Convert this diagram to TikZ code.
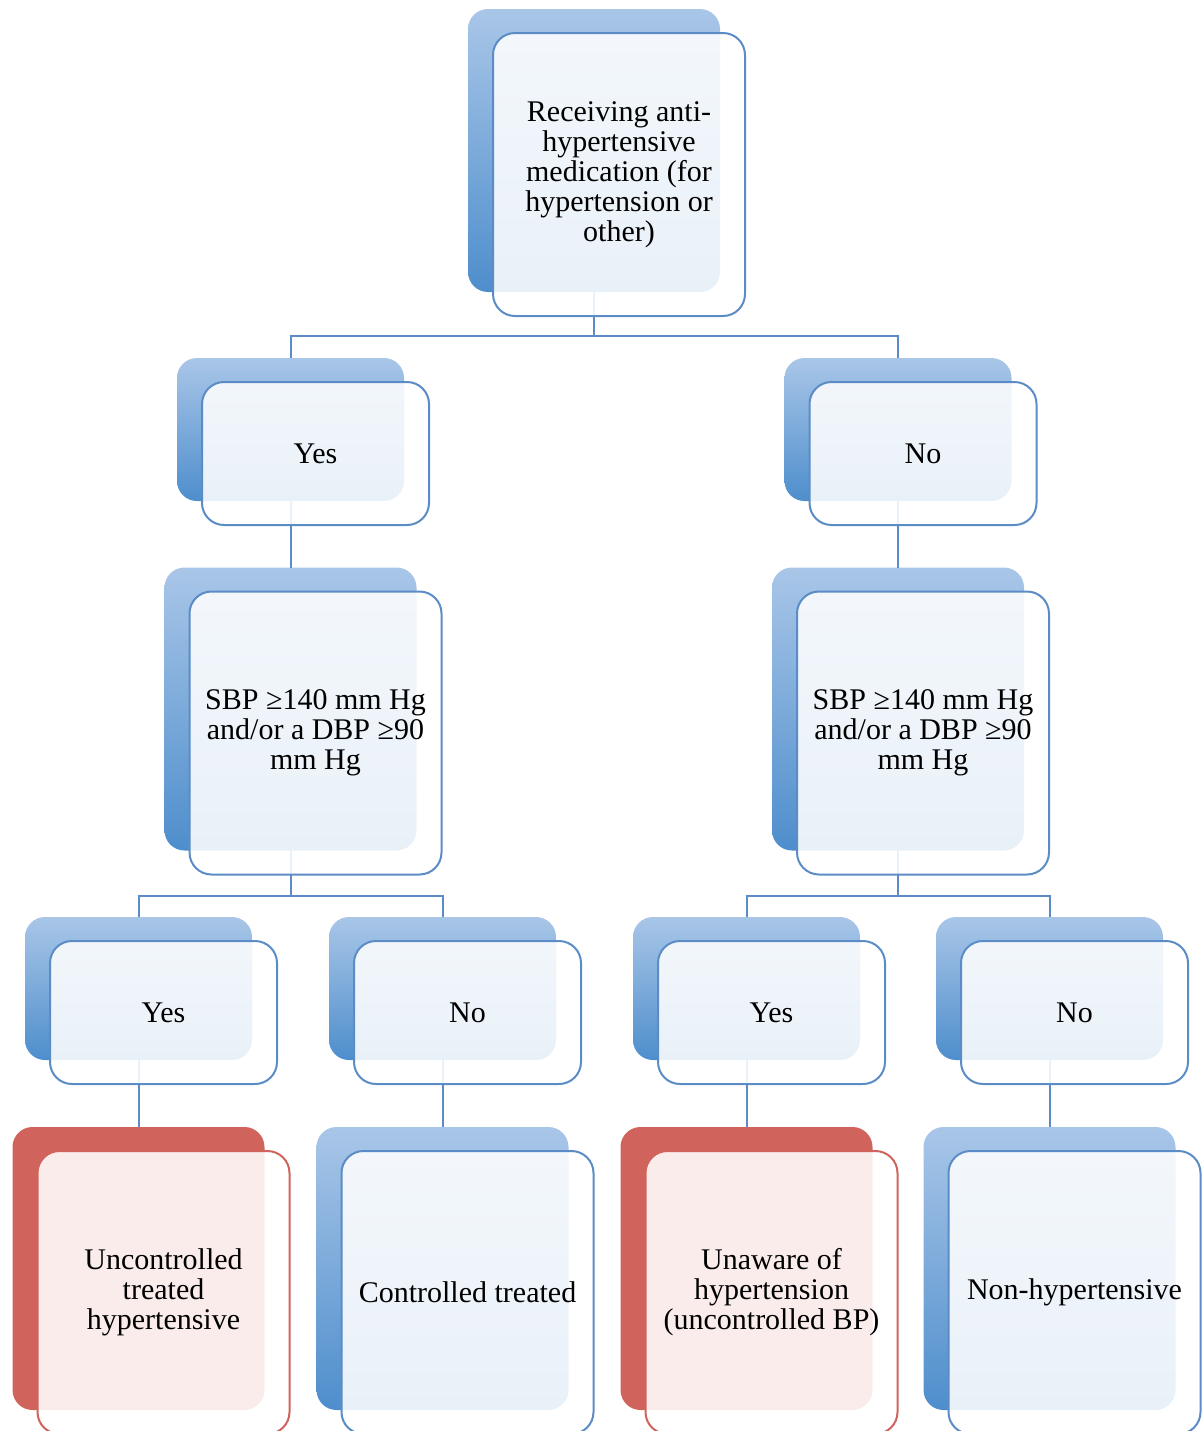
\documentclass[tikz,border=0pt]{standalone}
\usepackage{fontspec}
\setmainfont{Liberation Serif}
\usetikzlibrary{positioning,calc}

\definecolor{backtop}{HTML}{A9C6E8}
\definecolor{backbot}{HTML}{4E8ECC}
\definecolor{edgeblue}{HTML}{5B8CC6}
\definecolor{backred}{HTML}{D0645C}

\begin{document}
\begin{tikzpicture}[
						x=0.5pt, y=-0.5pt,
						every node/.style={font=\fontsize{15}{15}\selectfont, align=center, inner sep=0pt, outer sep=0pt},
						backbox/.style={rounded corners=10pt, top color=backtop, bottom color=backbot},
						redbox/.style={rounded corners=10pt, fill=backred},
						frontbox/.style={rounded corners=11pt, draw=edgeblue, line width=1pt, fill=white, fill opacity=0.88, text opacity=1},
						redfront/.style={frontbox, draw=backred},
						big/.style={minimum width=126pt, minimum height=141.5pt},
						small/.style={minimum width=113.5pt, minimum height=71.5pt},
						link/.style={draw=edgeblue, line width=1pt}
						]
						
						\useasboundingbox (0,0) rectangle (1202,1431);
						
						% Back boxes
						\node[backbox, big] (top) at (594,150.5) {};
						\node[backbox, small] (yes) at (290.5,429.5) {};
						\node[backbox, small] (no) at (898,429.5) {};
						\node[backbox, big] (sbpy) at (290.5,709) {};
						\node[backbox, big] (sbpn) at (898,709) {};
						\node[backbox, small] (yesy) at (138.5,988.5) {};
						\node[backbox, small] (yesn) at (442.5,988.5) {};
						\node[backbox, small] (noy) at (746.5,988.5) {};
						\node[backbox, small] (non) at (1049.5,988.5) {};
						\node[redbox, big] (uncon) at (138.5,1268.5) {};
						\node[backbox, big] (contr) at (442.5,1268.5) {};
						\node[redbox, big] (unaware) at (746.5,1268.5) {};
						\node[backbox, big] (nonhyp) at (1049.5,1268.5) {};
						
						% Connectors
						\draw[link] (top.south) -- ++(0,44) -| (yes.north);
						\draw[link] (top.south) -- ++(0,44) -| (no.north);
						\draw[link] (yes.south) -- (sbpy.north);
						\draw[link] (no.south) -- (sbpn.north);
						\draw[link] (sbpy.south) -- ++(0,45) -| (yesy.north);
						\draw[link] (sbpy.south) -- ++(0,45) -| (yesn.north);
						\draw[link] (sbpn.south) -- ++(0,45) -| (noy.north);
						\draw[link] (sbpn.south) -- ++(0,45) -| (non.north);
						\draw[link] (yesy.south) -- (uncon.north);
						\draw[link] (yesn.south) -- (contr.north);
						\draw[link] (noy.south) -- (unaware.north);
						\draw[link] (non.south) -- (nonhyp.north);
						
						% Front boxes with text
						\node[frontbox, big] (ftop) at ([shift={(25,24)}]top.center) {Receiving anti-\\hypertensive\\medication (for\\hypertension or\\other)};
						\node[frontbox, small] (fyes) at ([shift={(25,24)}]yes.center) {Yes};
						\node[frontbox, small] (fno) at ([shift={(25,24)}]no.center) {No};
						\node[frontbox, big] (fsbpy) at ([shift={(25,24)}]sbpy.center) {SBP ≥140 mm Hg\\and/or a DBP ≥90\\mm Hg};
						\node[frontbox, big] (fsbpn) at ([shift={(25,24)}]sbpn.center) {SBP ≥140 mm Hg\\and/or a DBP ≥90\\mm Hg};
						\node[frontbox, small] (fyesy) at ([shift={(25,24)}]yesy.center) {Yes};
						\node[frontbox, small] (fyesn) at ([shift={(25,24)}]yesn.center) {No};
						\node[frontbox, small] (fnoy) at ([shift={(25,24)}]noy.center) {Yes};
						\node[frontbox, small] (fnon) at ([shift={(25,24)}]non.center) {No};
						\node[redfront, big] (funcon) at ([shift={(25,24)}]uncon.center) {Uncontrolled\\treated\\hypertensive};
						\node[frontbox, big] (fcontr) at ([shift={(25,24)}]contr.center) {Controlled treated};
						\node[redfront, big] (funaware) at ([shift={(25,24)}]unaware.center) {Unaware of\\hypertension\\(uncontrolled BP)};
						\node[frontbox, big] (fnonhyp) at ([shift={(25,24)}]nonhyp.center) {Non-hypertensive};
						
					\end{tikzpicture}
\end{document}
